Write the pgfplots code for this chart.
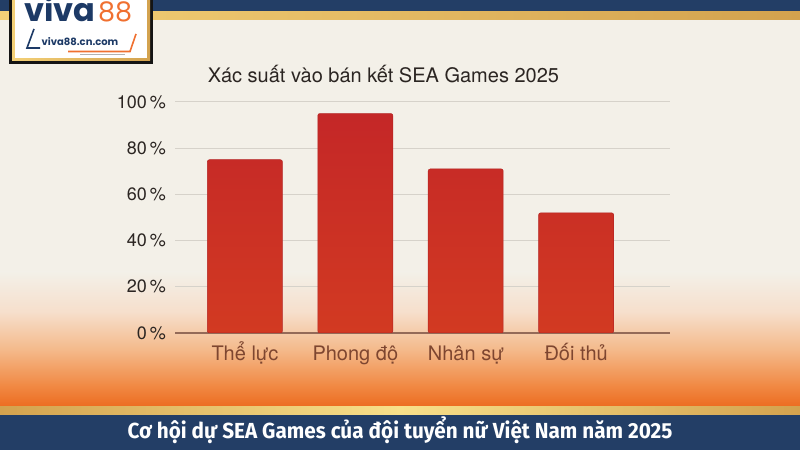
\documentclass[border=0pt]{standalone}
\usepackage{pgfplots}
\pgfplotsset{compat=1.18}
\usepackage{pgfplotstable}
\usepackage{fontspec}
\setmainfont{TeX Gyre Heros}
\newfontfamily\capfont[FakeStretch=0.95]{Fira Sans}
\newfontfamily\logofont{Poppins}

\definecolor{navy}{HTML}{233E66}
\definecolor{goldL}{HTML}{F3D077}
\definecolor{goldM}{HTML}{F8E08A}
\definecolor{goldR}{HTML}{D3A24E}
\definecolor{bgbeige}{HTML}{F3F0E8}
\definecolor{bgA}{HTML}{F6DFCC}
\definecolor{bgB}{HTML}{F4B98A}
\definecolor{bgC}{HTML}{F18A45}
\definecolor{bgD}{HTML}{EC6A1E}
\definecolor{barTop}{HTML}{C42727}
\definecolor{barBot}{HTML}{D23A22}
\definecolor{barEdge}{HTML}{B52424}
\definecolor{gridc}{HTML}{D6D2CA}
\definecolor{basec}{HTML}{946A58}
\definecolor{ticktext}{HTML}{2B2522}
\definecolor{xtext}{HTML}{7E4630}
\definecolor{logonavy}{HTML}{1D3A66}
\definecolor{logoorange}{HTML}{F07030}

\pgfplotstableread{
x val
0 75
1 95
2 71
3 52
}\datatable

\begin{document}
\begin{tikzpicture}[x=1bp,y=1bp]
\useasboundingbox (0,0) rectangle (800,450);
% background
\fill[bgbeige] (0,0) rectangle (800,450);
\shade[top color=bgbeige, bottom color=bgA] (0,178) rectangle (800,138);
\shade[top color=bgA, bottom color=bgB] (0,138.2) rectangle (800,100);
\shade[top color=bgB, bottom color=bgC] (0,100.2) rectangle (800,65);
\shade[top color=bgC, bottom color=bgD] (0,65.2) rectangle (800,42);
% top band
\fill[navy] (0,438) rectangle (800,450);
\shade[left color=goldL, right color=goldR] (0,430) rectangle (800,438);
% bottom band
\shade[left color=goldR, right color=goldR, middle color=goldM] (0,35) rectangle (800,43);
\fill[navy] (0,0) rectangle (800,35);
\node[anchor=base, text=white, inner sep=0pt] at (400,11)
  {\capfont\bfseries\fontsize{21.8bp}{24bp}\selectfont Cơ hội dự SEA Games của đội tuyển nữ Việt Nam năm 2025};
% title
\node[anchor=base, text=ticktext, inner sep=0pt] at (383.5,367)
  {\fontsize{20bp}{24bp}\selectfont Xác suất vào bán kết SEA Games 2025};

\begin{axis}[
  at={(175bp,117bp)}, anchor=south west,
  scale only axis, width=495bp, height=231bp,
  xmin=-0.633, xmax=3.85, ymin=0, ymax=100,
  axis line style={draw=none},
  tick style={draw=none},
  xtick={0,1,2,3},
  xticklabels={Thể lực, Phong độ, Nhân sự, Đối thủ},
  xticklabel style={anchor=base, yshift=-28bp, text=xtext, font=\fontsize{20bp}{24bp}\selectfont, inner sep=0pt},
  ytick={20,40,60,80,100},
  yticklabels={20\,\%,40\,\%,60\,\%,80\,\%,100\,\%},
  extra y ticks={0},
  extra y tick labels={0\,\%},
  extra y tick style={grid style={basec, line width=1.4bp}},
  yticklabel style={anchor=east, inner sep=0pt, xshift=-9bp, text=ticktext, font=\fontsize{18bp}{22bp}\selectfont},
  ymajorgrids,
  grid style={gridc, line width=1bp},
]
\addplot[ybar, bar width=75bp, draw=barEdge, line width=0.5bp, top color=barTop, bottom color=barBot, rounded corners=2bp]
  table[x=x, y=val]{\datatable};
\end{axis}

% logo
\fill[black!92] (9,386) rectangle (153,450);
\shade[left color=goldL, right color=goldR] (12,389) rectangle (150,450);
\fill[white] (15,392) rectangle (147,450);
\node[anchor=base west, inner sep=0pt, text depth=0pt, text=logonavy] at (24,428)
  {\logofont\bfseries\fontsize{32bp}{32bp}\selectfont viva};
\node[anchor=base west, inner sep=0pt, text depth=0pt, text=logoorange] at (98,428)
  {\logofont\fontsize{27bp}{27bp}\selectfont 88};
\draw[logonavy, line width=1.6bp] (34,421) -- (27,402) -- (40,402);
\node[anchor=base, inner sep=0pt, text height=7bp, text depth=0pt, text=logonavy] at (80,404)
  {\logofont\bfseries\fontsize{10bp}{10bp}\selectfont viva88.cn.com};
\draw[logoorange, line width=1.6bp] (68,398.5) -- (130,398.5) -- (136,416);
\draw[gray!60, line width=0.6bp] (80,395.5) -- (125,395.5);
\end{tikzpicture}
\end{document}
